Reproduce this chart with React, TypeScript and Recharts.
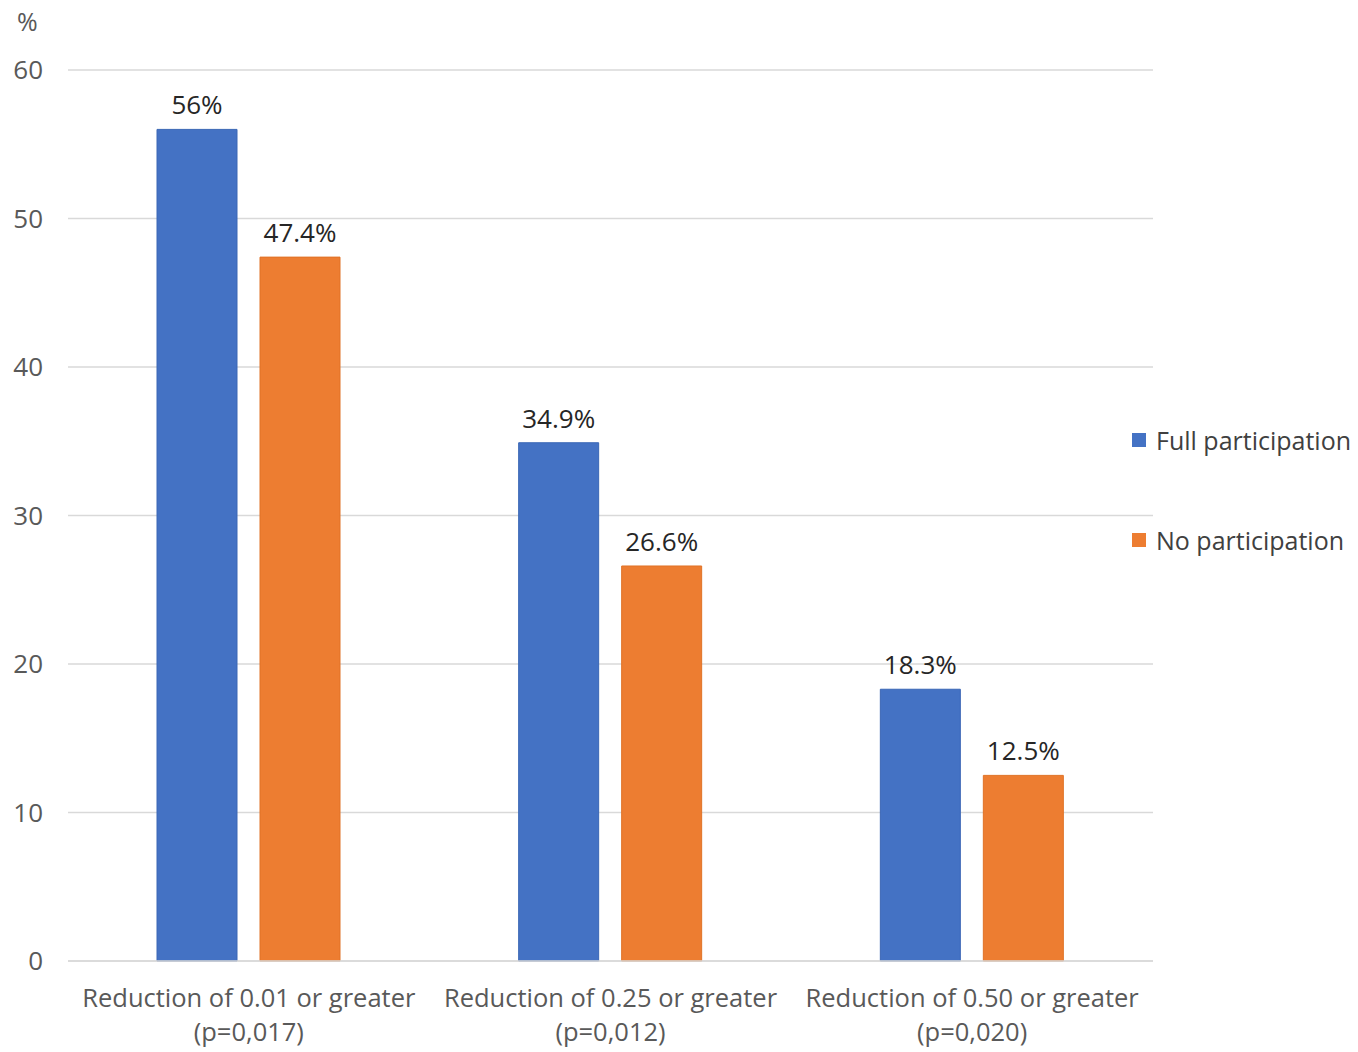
import { BarChart, Bar, XAxis, YAxis, CartesianGrid, LabelList } from 'recharts';

const categories = ['Reduction of 0.01 or greater', 'Reduction of 0.25 or greater', 'Reduction of 0.50 or greater'];
const pValues = ['(p=0,017)', '(p=0,012)', '(p=0,020)'];
const fullParticipation = [56, 34.9, 18.3];
const noParticipation = [47.4, 26.6, 12.5];
const yTicks = [0, 10, 20, 30, 40, 50, 60];

const series = [
  { key: 'full', name: 'Full participation', color: '#4472C4', edge: '#3a66b5' },
  { key: 'none', name: 'No participation', color: '#ED7D31', edge: '#e07226' },
];

const data = categories.map((name, i) => ({
  name,
  full: fullParticipation[i],
  none: noParticipation[i],
}));

const FONT = "'Segoe UI', 'Open Sans', sans-serif";

const CategoryTick = ({ x, y, payload, index }: { x?: number; y?: number; payload?: { value: string }; index?: number }) => (
  <text x={x} y={y} textAnchor="middle" fill="#595959" fontSize={25.5} fontFamily={FONT}>
    <tspan x={x} dy={38}>{payload?.value}</tspan>
    <tspan x={x} dy={34}>{pValues[index ?? 0]}</tspan>
  </text>
);

export default function App() {
  return (
    <div style={{ position: 'absolute', left: 0, top: 0, width: 1358, height: 1052, background: '#fff' }}>
      <div style={{ position: 'absolute', left: 17, top: 4, fontFamily: FONT, fontSize: 25, color: '#595959' }}>%</div>
      <BarChart
        width={1358}
        height={1052}
        data={data}
        margin={{ top: 70, right: 205, bottom: 0, left: 0 }}
        barSize={80}
        barGap={23}
      >
        <CartesianGrid vertical={false} stroke="#d9d9d9" strokeWidth={1.3} />
        <XAxis
          dataKey="name"
          tick={<CategoryTick />}
          tickLine={false}
          axisLine={{ stroke: '#d9d9d9', strokeWidth: 1.3 }}
          interval={0}
          height={91}
        />
        <YAxis
          domain={[0, 60]}
          ticks={yTicks}
          width={68}
          axisLine={false}
          tickLine={false}
          tickMargin={19}
          tick={{ fill: '#595959', fontSize: 26, fontFamily: FONT }}
        />
        {series.map((s) => (
          <Bar key={s.key} dataKey={s.key} name={s.name} fill={s.color} stroke={s.edge} strokeWidth={1} isAnimationActive={false}>
            <LabelList dataKey={s.key} position="top" offset={15} formatter={(v: number) => `${v}%`} fill="#262626" fontSize={26} fontFamily={FONT} />
          </Bar>
        ))}
      </BarChart>
      <div style={{ position: 'absolute', left: 1132, top: 422, fontFamily: FONT, fontSize: 25, color: '#404040' }}>
        {series.map((s, i) => (
          <div key={s.key} style={{ display: 'flex', alignItems: 'center', height: 36, marginTop: i === 0 ? 0 : 64, whiteSpace: 'nowrap' }}>
            <span style={{ width: 14, height: 14, backgroundColor: s.color, marginRight: 10, display: 'inline-block' }} />
            <span>{s.name}</span>
          </div>
        ))}
      </div>
    </div>
  );
}
